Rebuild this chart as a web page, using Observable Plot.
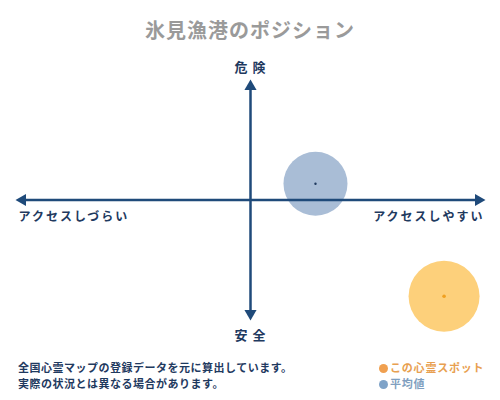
<!DOCTYPE html>
<html><head><meta charset="utf-8">
<script src="https://cdn.jsdelivr.net/npm/d3@7"></script>
<script src="https://cdn.jsdelivr.net/npm/@observablehq/plot@0.6"></script>
<style>
body{margin:0;width:500px;height:400px;background:#fff;font-family:"Noto Sans CJK JP",sans-serif;overflow:hidden}
#title{height:55px;line-height:60px;text-align:center;font-size:20px;font-weight:700;color:#9a9a9a;letter-spacing:1px}
#chart svg{display:block}
#chart text{letter-spacing:2px}
#chart text.big{letter-spacing:5px}
#foot{position:relative;height:50px;font-weight:700;font-size:11px}
.cap{position:absolute;left:18px;color:#1f3a5f;letter-spacing:0.5px;white-space:nowrap}
.leg{position:absolute;left:379px;white-space:nowrap;letter-spacing:0.8px}
.leg span{display:inline-block;width:9px;height:9px;border-radius:50%;margin-right:2px;vertical-align:-1px}
</style></head>
<body>
<div id="title"></div>
<div id="chart"></div>
<div id="foot"></div>
<script>
const chartTitle = "氷見漁港のポジション";
const xLabels = ["アクセスしづらい", "アクセスしやすい"];
const yLabels = ["安全", "危険"];
const seriesNames = ["この心霊スポット", "平均値"];
const accessValues = [84.9, 28.5];
const dangerValues = [-84.8, 14.3];
const seriesColors = ["#fdd07b", "#a9bdd6"];
const centerColors = ["#f0a020", "#1f3a5f"];
const legendColors = ["#f0a050", "#7fa3c8"];
const legendTextColors = ["#e8a050", "#7f9fc0"];
const captionLines = ["全国心霊マップの登録データを元に算出しています。", "実際の状況とは異なる場合があります。"];

document.getElementById("title").textContent = chartTitle;

const navy = "#1f4a7a";
const spots = seriesNames.map((name, i) => ({name, x: accessValues[i], y: dangerValues[i], fill: seriesColors[i], c: centerColors[i]}));
const axes = [{x1: -100, y1: 0, x2: 100, y2: 0}, {x1: 0, y1: -100, x2: 0, y2: 100}];
const heads = [{x: 100, y: 0, rot: 90}, {x: -100, y: 0, rot: -90}, {x: 0, y: 100, rot: 0}, {x: 0, y: -100, rot: 180}];

const plot = Plot.plot({
  width: 500, height: 295,
  marginLeft: 22, marginRight: 22, marginTop: 31, marginBottom: 37,
  x: {domain: [-100, 100], axis: null},
  y: {domain: [-100, 100], axis: null},
  style: {overflow: "visible", fontFamily: "Noto Sans CJK JP, sans-serif"},
  marks: [
    Plot.dot([spots[1]], {x: "x", y: "y", r: 32, fill: "fill", stroke: null}),
    Plot.dot([spots[0]], {x: "x", y: "y", r: 35.5, fill: "fill", stroke: null}),
    Plot.link(axes, {x1: "x1", y1: "y1", x2: "x2", y2: "y2", stroke: navy, strokeWidth: 2.5}),
    Plot.dot(heads, {x: "x", y: "y", symbol: "triangle", r: 4.5, fill: navy, stroke: null, rotate: "rot"}),
    Plot.dot([spots[1]], {x: "x", y: "y", r: 1.2, fill: "c", stroke: null}),
    Plot.dot([spots[0]], {x: "x", y: "y", r: 1.8, fill: "c", stroke: null}),
    Plot.text([yLabels[1]], {x: 0, y: 100, text: d => d, dy: -19, dx: 2, fontSize: 13, fontWeight: 700, fill: "#1f3a5f", className: "big"}),
    Plot.text([yLabels[0]], {x: 0, y: -100, text: d => d, dy: 22, dx: 2, fontSize: 13, fontWeight: 700, fill: "#1f3a5f", className: "big"}),
    Plot.text([xLabels[0]], {x: -100, y: 0, text: d => d, dy: 17, dx: -4, textAnchor: "start", fontSize: 12, fontWeight: 700, fill: "#1f3a5f"}),
    Plot.text([xLabels[1]], {x: 100, y: 0, text: d => d, dy: 17, dx: 6, textAnchor: "end", fontSize: 12, fontWeight: 700, fill: "#1f3a5f"})
  ]
});
document.getElementById("chart").appendChild(plot);
plot.querySelectorAll("g.big text, .big text, text.big").forEach(t => t.style.letterSpacing = "5px");

const foot = document.getElementById("foot");
captionLines.forEach((t, i) => {
  const d = document.createElement("div");
  d.className = "cap"; d.textContent = t; d.style.top = (9 + i * 16) + "px";
  foot.appendChild(d);
});
seriesNames.forEach((t, i) => {
  const d = document.createElement("div");
  d.className = "leg"; d.style.top = (9 + i * 16) + "px"; d.style.color = legendTextColors[i];
  const s = document.createElement("span"); s.style.background = legendColors[i];
  d.appendChild(s); d.appendChild(document.createTextNode(t));
  foot.appendChild(d);
});
</script>
</body></html>
